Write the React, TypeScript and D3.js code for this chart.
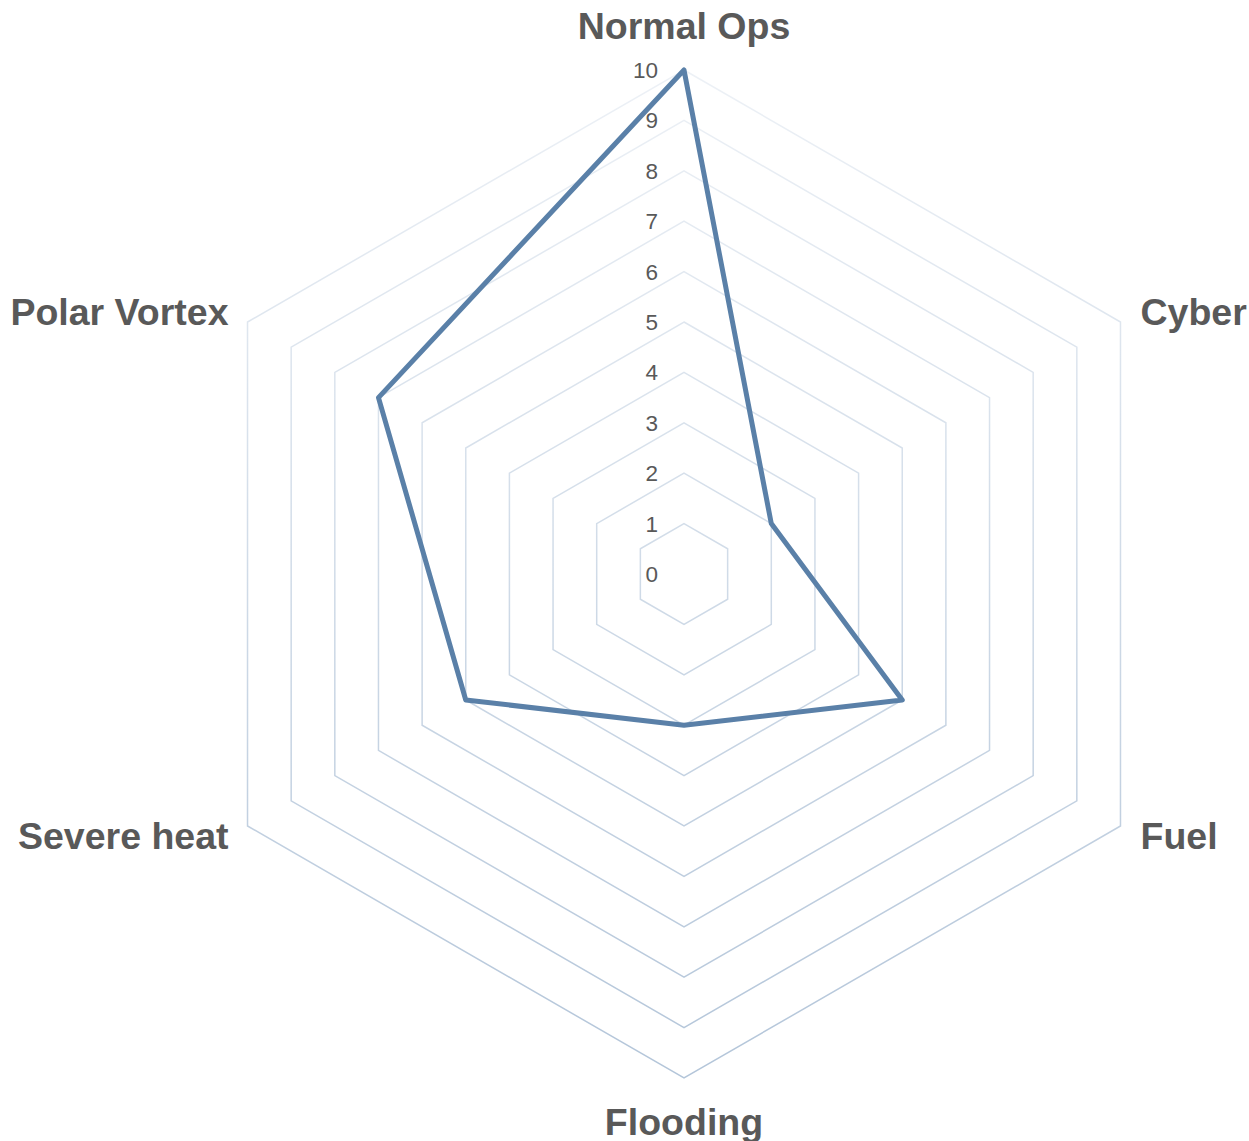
import React from "react";
import * as d3 from "d3";

const categories = ["Normal Ops", "Cyber", "Fuel", "Flooding", "Severe heat", "Polar Vortex"];
const values = [10, 2, 5, 3, 5, 7];
const ticks = [0, 1, 2, 3, 4, 5, 6, 7, 8, 9, 10];

const W = 1249;
const H = 1141;
const cx = 684;
const cy = 574;
const R = 504;

export default function App() {
  const r = d3.scaleLinear().domain([0, 10]).range([0, R]);
  const n = categories.length;
  const angle = (i: number) => (i * 2 * Math.PI) / n;
  const pt = (i: number, v: number): [number, number] => [
    cx + r(v) * Math.sin(angle(i)),
    cy - r(v) * Math.cos(angle(i)),
  ];
  const line = d3.line<[number, number]>().curve(d3.curveLinearClosed);
  const rings = ticks.filter((t) => t > 0);

  const labelPos = (i: number) => {
    const [x, y] = pt(i, 10);
    const s = Math.sin(angle(i));
    const c = Math.cos(angle(i));
    if (Math.abs(s) < 0.01) {
      return c > 0
        ? { x, y: y - 31, anchor: "middle" }
        : { x, y: y + 57, anchor: "middle" };
    }
    const top = c > 0;
    return {
      x: s > 0 ? x + 20 : x - 19,
      y: top ? y + 3 : y + 23,
      anchor: s > 0 ? "start" : "end",
    };
  };

  return (
    <svg
      width={W}
      height={H}
      style={{ position: "absolute", left: 0, top: 0, background: "#fff" }}
      fontFamily="'Liberation Sans', Arial, sans-serif"
    >
      <defs>
        <linearGradient id="gridGrad" gradientUnits="userSpaceOnUse" x1="0" y1={cy - R} x2="0" y2={cy + R}>
          <stop offset="0" stopColor="#edf1f6" />
          <stop offset="1" stopColor="#b3c5d9" />
        </linearGradient>
      </defs>
      {rings.map((t) => (
        <path
          key={t}
          d={line(categories.map((_, i) => pt(i, t))) || ""}
          fill="none"
          stroke="url(#gridGrad)"
          strokeWidth={1.5}
        />
      ))}
      {ticks.map((t) => (
        <text
          key={t}
          x={cx - 26}
          y={cy - r(t) + 8}
          textAnchor="end"
          fontSize={22.5}
          fill="#595959"
        >
          {t}
        </text>
      ))}
      <path
        d={line(values.map((v, i) => pt(i, v))) || ""}
        fill="none"
        stroke="#5a80a8"
        strokeWidth={5}
        strokeLinejoin="round"
      />
      {categories.map((c, i) => {
        const p = labelPos(i);
        return (
          <text
            key={c}
            x={p.x}
            y={p.y}
            textAnchor={p.anchor as any}
            fontSize={37.5}
            fontWeight="bold"
            fill="#595959"
          >
            {c}
          </text>
        );
      })}
    </svg>
  );
}
